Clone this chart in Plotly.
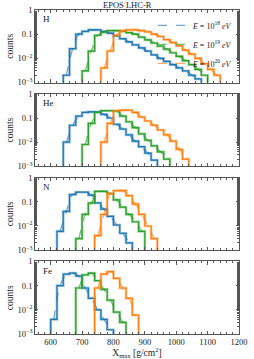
import plotly.graph_objects as go
from plotly.subplots import make_subplots

BIN = 20
panel_names = ["H", "He", "N", "Fe"]
energy_labels = ["<i>E</i> = 10<sup>18</sup> <i>eV</i>",
                 "<i>E</i> = 10<sup>19</sup> <i>eV</i>",
                 "<i>E</i> = 10<sup>20</sup> <i>eV</i>"]

# first bin lower edge for each panel, per energy (1e18, 1e19, 1e20)
H_start = [640, 700, 760]
H_e18 = [0.002, 0.025, 0.1, 0.13, 0.15, 0.15, 0.13, 0.11, 0.085, 0.065, 0.048, 0.036,
         0.027, 0.02, 0.014, 0.01, 0.0075, 0.0055, 0.004, 0.003, 0.002, 0.0014]
H_e19 = [0.003, 0.02, 0.09, 0.12, 0.14, 0.14, 0.13, 0.115, 0.1, 0.075, 0.058, 0.043,
         0.032, 0.024, 0.017, 0.012, 0.008, 0.0055, 0.0035, 0.002]
H_e20 = [0.004, 0.02, 0.09, 0.14, 0.15, 0.15, 0.14, 0.125, 0.1, 0.08, 0.06, 0.045,
         0.033, 0.022, 0.015, 0.01, 0.006, 0.0035, 0.002]

He_start = [640, 700, 760]
He_e18 = [0.01, 0.05, 0.12, 0.17, 0.18, 0.18, 0.14, 0.1, 0.055, 0.035, 0.02, 0.011,
          0.0065, 0.0035, 0.0018]
He_e19 = [0.008, 0.06, 0.17, 0.2, 0.2, 0.19, 0.12, 0.07, 0.04, 0.022, 0.012, 0.007,
          0.004, 0.002]
He_e20 = [0.01, 0.06, 0.2, 0.21, 0.21, 0.17, 0.11, 0.075, 0.05, 0.032, 0.02, 0.011,
          0.005, 0.002]

N_start = [620, 680, 740]
N_e18 = [0.006, 0.04, 0.2, 0.25, 0.25, 0.19, 0.09, 0.05, 0.025, 0.011, 0.005, 0.002]
N_e19 = [0.003, 0.03, 0.09, 0.27, 0.27, 0.22, 0.12, 0.06, 0.03, 0.015, 0.006]
N_e20 = [0.004, 0.03, 0.22, 0.29, 0.29, 0.18, 0.08, 0.03, 0.01, 0.003]

Fe_start = [600, 680, 740]
Fe_e18 = [0.004, 0.1, 0.3, 0.33, 0.25, 0.08, 0.03, 0.01, 0.004, 0.0015]
Fe_e19 = [0.08, 0.28, 0.33, 0.16, 0.07, 0.025, 0.008, 0.003]
Fe_e20 = [0.08, 0.3, 0.38, 0.2, 0.08, 0.03, 0.006]

panels = [
    (H_start, [H_e18, H_e19, H_e20]),
    (He_start, [He_e18, He_e19, He_e20]),
    (N_start, [N_e18, N_e19, N_e20]),
    (Fe_start, [Fe_e18, Fe_e19, Fe_e20]),
]

dark = ["#1f77b4", "#2ca02c", "#ff7f0e"]
light = ["rgba(31,119,180,0.45)", "rgba(44,160,44,0.45)", "rgba(255,127,14,0.45)"]
fitc = ["rgba(31,119,180,0.65)", "rgba(44,160,44,0.65)", "rgba(255,127,14,0.65)"]

FONT = "Liberation Serif"
FLOOR = 1e-4

fig = make_subplots(rows=4, cols=1, shared_xaxes=True, vertical_spacing=0.035)

for r, (starts, series) in enumerate(panels, start=1):
    for k, (s, vals) in enumerate(zip(starts, series)):
        n = len(vals)
        xs = [s] + [s + i * BIN for i in range(n)] + [s + n * BIN]
        ys = [FLOOR] + list(vals) + [FLOOR]
        fig.add_trace(go.Scatter(x=xs, y=ys, mode="lines", line=dict(color=light[k], width=2.6, shape="hv"),
                                 showlegend=False, hoverinfo="skip"), row=r, col=1)
        fig.add_trace(go.Scatter(x=xs, y=ys, mode="lines", line=dict(color=dark[k], width=1.2, shape="hv"),
                                 showlegend=False, hoverinfo="skip"), row=r, col=1)
        cx = [s + (i + 0.5) * BIN for i in range(n)]
        fig.add_trace(go.Scatter(x=cx, y=list(vals), mode="lines",
                                 line=dict(color=fitc[k], width=1.3, dash="dash", shape="spline"),
                                 name=energy_labels[k], showlegend=(r == 1)), row=r, col=1)

h = 72.5 / 324
g = 11.33 / 324
domains = []
for i in range(4):
    top = 1 - i * (h + g)
    domains.append([top - h, top])

axis_common = dict(showline=True, linecolor="#555", linewidth=0.8, mirror="ticks", ticks="inside",
                   ticklen=3.5, tickcolor="#555", tickwidth=0.8, showgrid=False, zeroline=False,
                   automargin=False, tickfont=dict(family=FONT, size=8.5, color="#222"))

for i in range(4):
    xa = "xaxis" if i == 0 else f"xaxis{i+1}"
    ya = "yaxis" if i == 0 else f"yaxis{i+1}"
    fig.layout[xa].update(range=[550, 1200], dtick=100, showticklabels=(i == 3),
                          minor=dict(dtick=20, ticks="inside", ticklen=2, tickcolor="#555"),
                          **axis_common)
    fig.layout[ya].update(type="log", range=[-3, 0], domain=domains[i],
                          tickvals=[1, 0.1, 0.01, 0.001],
                          ticktext=["1", "0.1", "10<sup>−2</sup>", "10<sup>−3</sup>"],
                          minor=dict(ticks="inside", ticklen=2, tickcolor="#555"),
                          title=dict(text="counts", font=dict(family=FONT, size=9.5, color="#222"), standoff=2),
                          **axis_common)
    fig.add_annotation(xref=f"x{'' if i == 0 else i+1} domain", yref=f"y{'' if i == 0 else i+1} domain",
                       x=0.03, y=0.97, xanchor="left", yanchor="top", showarrow=False,
                       text=panel_names[i], font=dict(family=FONT, size=9, color="#222"))

fig.layout.xaxis4.title = dict(text="X<sub>max</sub> [g/cm<sup>2</sup>]",
                               font=dict(family=FONT, size=9.5, color="#222"), standoff=2)

fig.add_annotation(xref="paper", yref="paper", x=0.455, y=1.0, yanchor="bottom", showarrow=False,
                   text="EPOS LHC-R", font=dict(family=FONT, size=8.5, color="#222"), yshift=-2)

fig.update_layout(
    width=254, height=359,
    margin=dict(l=34.5, r=15, t=10, b=25),
    paper_bgcolor="white", plot_bgcolor="white",
    font=dict(family=FONT, size=8.5, color="#222"),
    legend=dict(x=0.995, y=0.997, xanchor="right", yanchor="top", bgcolor="rgba(0,0,0,0)",
                font=dict(family=FONT, size=8, color="#222"), itemwidth=30, tracegroupgap=0),
)

fig.write_html("out.html", config={"displayModeBar": False},
               post_script="document.body.style.margin='0';document.body.style.padding='0';")
